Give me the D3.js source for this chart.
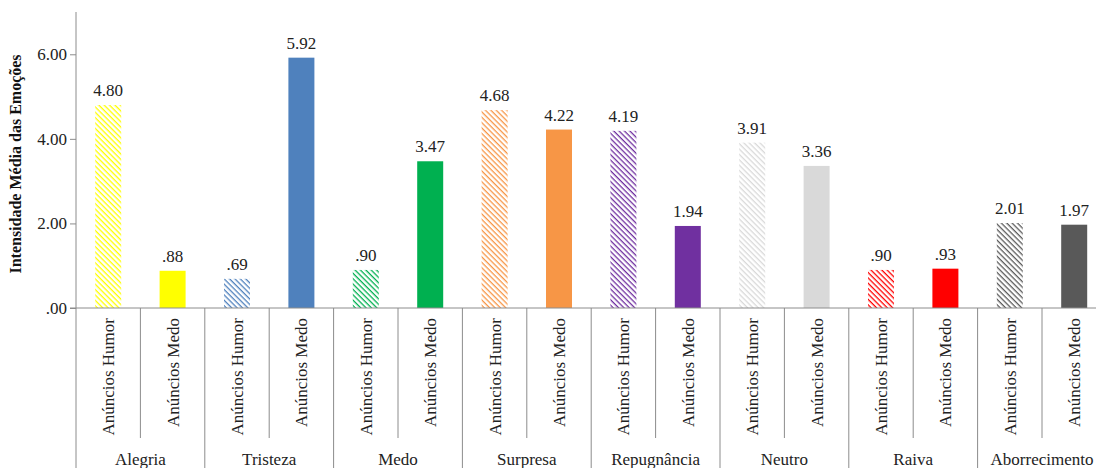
<!DOCTYPE html>
<html><head><meta charset="utf-8">
<script src="https://cdn.jsdelivr.net/npm/d3@7"></script>
<style>body{margin:0;background:#fff}svg{display:block}
svg text{font-family:"Liberation Serif","Times New Roman",serif !important;}</style>
</head><body>
<svg id="c" width="1096" height="468"></svg>
<script>
const categories = ["Alegria","Tristeza","Medo","Surpresa","Repugnância","Neutro","Raiva","Aborrecimento"];
const series = ["Anúncios Humor","Anúncios Medo"];
const humorValues = [4.80,0.69,0.90,4.68,4.19,3.91,0.90,2.01];
const medoValues  = [0.88,5.92,3.47,4.22,1.94,3.36,0.93,1.97];
const colors = ["#FFFF00","#4F81BD","#00B050","#F79646","#7030A0","#D9D9D9","#FF0000","#595959"];
const yTicks = [0,2,4,6];
const yTitle = "Intensidade Média das Emoções";

(function(){
const svg = d3.select("#c");
const serif = "Liberation Serif";
const mLeft = 76, mTop = 12, mBottom = 308;
const groupW = 128.8;
const mRight = mLeft + groupW * categories.length;

const y = d3.scaleLinear().domain([0,7]).range([mBottom, mTop]);
const xg = d3.scaleBand().domain(categories).range([mLeft, mRight]).padding(0);
const xs = d3.scaleBand().domain(series).range([0, xg.bandwidth()]).paddingInner(0).paddingOuter(0);

const fmt = v => d3.format(".2f")(v).replace(/^0\./, ".");

// patterns
const defs = svg.append("defs");
colors.forEach((c,i) => {
  const p = defs.append("pattern").attr("id","h"+i).attr("patternUnits","userSpaceOnUse")
    .attr("width",3.8).attr("height",3.8).attr("patternTransform","rotate(45)");
  p.append("rect").attr("width",3.8).attr("height",3.8).attr("fill","#fff");
  p.append("rect").attr("x",0).attr("y",0).attr("width",3.8).attr("height",1.3).attr("fill",c);
});

const data = [];
categories.forEach((cat,i) => {
  data.push({cat, s: series[0], v: humorValues[i], fill: "url(#h"+i+")", i});
  data.push({cat, s: series[1], v: medoValues[i], fill: colors[i], i});
});

const barW = 26;
const g = svg.append("g");
g.selectAll("rect.bar").data(data).join("rect").attr("class","bar")
  .attr("x", d => xg(d.cat) + xs(d.s) + xs.bandwidth()/2 - barW/2)
  .attr("width", barW)
  .attr("y", d => y(d.v))
  .attr("height", d => y(0) - y(d.v))
  .attr("fill", d => d.fill);

g.selectAll("text.val").data(data).join("text").attr("class","val")
  .attr("x", d => xg(d.cat) + xs(d.s) + xs.bandwidth()/2)
  .attr("y", d => y(d.v) - 9)
  .attr("text-anchor","middle")
  .attr("font-family", serif).attr("font-size", 17).attr("fill","#222")
  .text(d => fmt(d.v));

// y axis
const axisColor = "#8c8c8c";
const yAxis = svg.append("g").attr("transform",`translate(${mLeft},0)`)
  .call(d3.axisLeft(y).tickValues(yTicks).tickSize(6).tickFormat(fmt));
yAxis.select(".domain").attr("d", `M0,${mTop}V${mBottom}`).attr("stroke", axisColor);
yAxis.selectAll(".tick line").attr("stroke", axisColor);
yAxis.selectAll(".tick text").attr("font-family", serif).attr("font-size", 17).attr("fill","#222").attr("x",-9);

svg.append("text")
  .attr("transform", `translate(21,${(mTop+mBottom)/2+4}) rotate(-90)`)
  .attr("text-anchor","middle").attr("font-family", serif).attr("font-weight","bold")
  .attr("font-size", 16).attr("fill","#111").text(yTitle);

// x axis line
svg.append("line").attr("x1", mLeft-6).attr("x2", 1096).attr("y1", mBottom).attr("y2", mBottom)
  .attr("stroke", axisColor);

// group separators
svg.selectAll("line.gsep").data(categories.concat(["_end"])).join("line").attr("class","gsep")
  .attr("x1", (d,i) => mLeft + i*xg.bandwidth()).attr("x2", (d,i) => mLeft + i*xg.bandwidth())
  .attr("y1", mBottom).attr("y2", 468).attr("stroke", axisColor);

// inner separators
svg.selectAll("line.isep").data(categories).join("line").attr("class","isep")
  .attr("x1", d => xg(d) + xs(series[1])).attr("x2", d => xg(d) + xs(series[1]))
  .attr("y1", mBottom).attr("y2", 438).attr("stroke", axisColor);

// series labels
svg.selectAll("text.sl").data(data).join("text").attr("class","sl")
  .attr("transform", d => `translate(${xg(d.cat) + xs(d.s) + xs.bandwidth()/2 + 6},318) rotate(-90)`)
  .attr("text-anchor","end").attr("font-family", serif).attr("font-size", 17).attr("fill","#222")
  .text(d => d.s);

// category labels
svg.selectAll("text.cl").data(categories).join("text").attr("class","cl")
  .attr("x", d => xg(d) + xg.bandwidth()/2).attr("y", 465)
  .attr("text-anchor","middle").attr("font-family", serif).attr("font-size", 17).attr("fill","#222")
  .text(d => d);
})();
</script>
</body></html>
